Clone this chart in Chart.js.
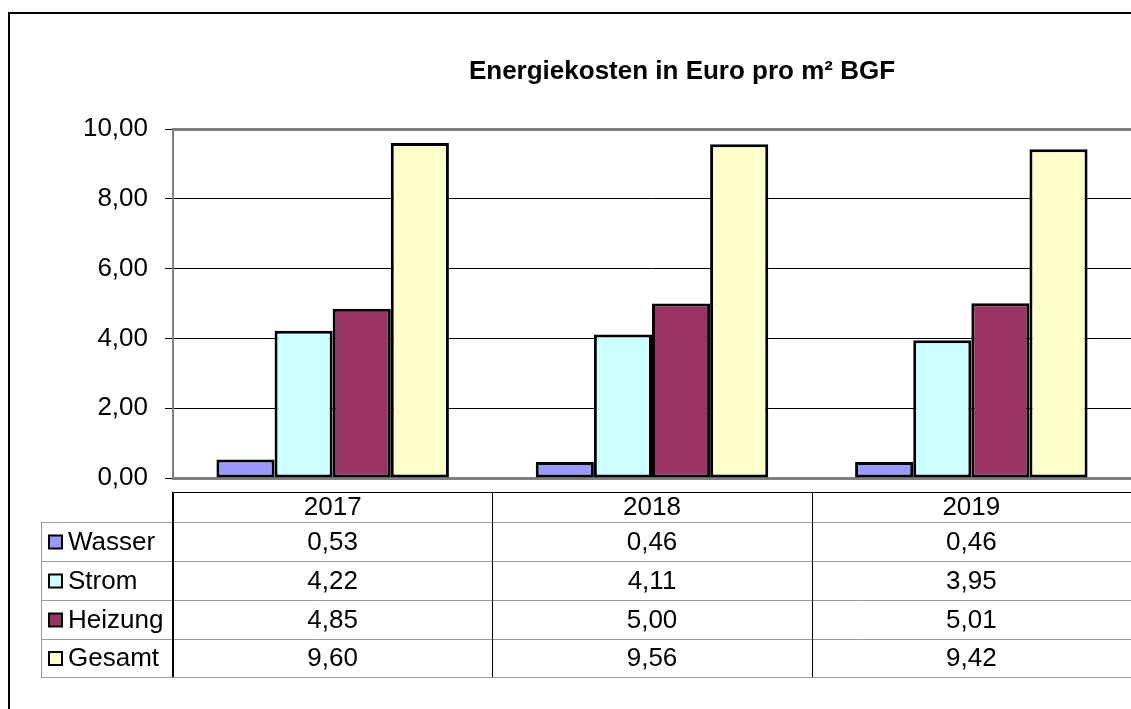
<!DOCTYPE html>
<html lang="de">
<head>
  <meta charset="UTF-8" />
  <title>Energiekosten in Euro pro m² BGF</title>
  <script src="https://cdn.jsdelivr.net/npm/chart.js"></script>
  <style>
    body {
      margin: 0;
      background: #ffffff;
    }
    canvas {
      display: block;
    }
  </style>
</head>
<body>

<canvas id="costChart" width="1131" height="709"></canvas>

<script>
  // Data
  const years = ['2017', '2018', '2019'];
  const seriesNames = ['Wasser', 'Strom', 'Heizung', 'Gesamt'];
  const wasser = [0.53, 0.46, 0.46];
  const strom = [4.22, 4.11, 3.95];
  const heizung = [4.85, 5.00, 5.01];
  const gesamt = [9.60, 9.56, 9.42];
  const yMin = 0;
  const yMax = 10;
  const yStep = 2;

  const seriesValues = [wasser, strom, heizung, gesamt];
  const seriesColors = ['#9999FF', '#CCFFFF', '#993366', '#FFFFCC'];

  const FONT = "'Liberation Sans', Arial, sans-serif";
  const fmt = v => v.toFixed(2).replace('.', ',');

  // Frame, title and the data table under the plot
  const tablePlugin = {
    id: 'dataTable',
    afterDraw(chart) {
      const { ctx, chartArea: a, scales: { x } } = chart;
      const colW = (a.right - a.left) / years.length;
      const rowLines = [522, 561, 600, 639, 677];
      const headTop = 492;
      const legLeft = 41;

      ctx.save();

      // outer frame
      ctx.strokeStyle = '#000';
      ctx.lineWidth = 2;
      ctx.strokeRect(9, 13, 1400, 900);

      // title
      ctx.fillStyle = '#000';
      ctx.font = 'bold 26px ' + FONT;
      ctx.textAlign = 'center';
      ctx.textBaseline = 'alphabetic';
      ctx.fillText('Energiekosten in Euro pro m² BGF', 682, 79);

      // table lines
      ctx.lineWidth = 1;
      ctx.strokeStyle = '#000';
      ctx.beginPath();
      ctx.moveTo(a.left, headTop + 0.5);
      ctx.lineTo(chart.width, headTop + 0.5);
      ctx.stroke();

      ctx.strokeStyle = '#999';
      rowLines.forEach(y => {
        ctx.beginPath();
        ctx.moveTo(legLeft, y + 0.5);
        ctx.lineTo(chart.width, y + 0.5);
        ctx.stroke();
      });
      ctx.beginPath();
      ctx.moveTo(legLeft + 0.5, rowLines[0]);
      ctx.lineTo(legLeft + 0.5, rowLines[rowLines.length - 1]);
      ctx.stroke();

      ctx.strokeStyle = '#000';
      for (let i = 0; i < years.length; i++) {
        const lx = Math.round(a.left + i * colW);
        ctx.lineWidth = i === 0 ? 2 : 1;
        ctx.beginPath();
        ctx.moveTo(lx + (i === 0 ? 0 : 0.5), headTop);
        ctx.lineTo(lx + (i === 0 ? 0 : 0.5), rowLines[rowLines.length - 1]);
        ctx.stroke();
      }

      // header and values
      ctx.font = '26px ' + FONT;
      ctx.textBaseline = 'middle';
      ctx.textAlign = 'center';
      years.forEach((yr, i) => {
        const cx = x.getPixelForValue(i);
        ctx.fillText(yr, cx, (headTop + rowLines[0]) / 2 + 1);
        seriesValues.forEach((vals, r) => {
          const cy = (rowLines[r] + rowLines[r + 1]) / 2 + 1;
          ctx.fillText(fmt(vals[i]), cx, cy);
        });
      });

      // legend keys
      ctx.textAlign = 'left';
      chart.data.datasets.forEach((ds, r) => {
        const cy = (rowLines[r] + rowLines[r + 1]) / 2;
        ctx.fillStyle = ds.backgroundColor;
        ctx.fillRect(49, cy - 6, 13, 13);
        ctx.lineWidth = 2;
        ctx.strokeStyle = '#000';
        ctx.strokeRect(49, cy - 6, 13, 13);
        ctx.fillStyle = '#000';
        ctx.fillText(ds.label, 68, cy + 1);
      });

      ctx.restore();
    }
  };

  const datasets = seriesNames.map((name, i) => ({
    label: name,
    data: seriesValues[i],
    backgroundColor: seriesColors[i],
    borderColor: '#000',
    borderWidth: 3,
    borderSkipped: false,
    categoryPercentage: 0.728,
    barPercentage: 1.0
  }));

  const ctx = document.getElementById('costChart').getContext('2d');

  const chart = new Chart(ctx, {
    type: 'bar',
    data: {
      labels: years,
      datasets: datasets
    },
    plugins: [tablePlugin],
    options: {
      responsive: false,
      animation: false,
      layout: {
        padding: { left: 53, top: 129, right: 0, bottom: 231 }
      },
      plugins: {
        legend: { display: false },
        title: { display: false },
        tooltip: { enabled: false }
      },
      scales: {
        x: {
          ticks: { display: false },
          grid: { display: false, drawTicks: false },
          border: { color: '#808080', width: 3 }
        },
        y: {
          min: yMin,
          max: yMax,
          afterFit: s => { s.width = 120; },
          ticks: {
            stepSize: yStep,
            padding: 17,
            color: '#000',
            font: { family: FONT, size: 26 },
            callback: v => fmt(v)
          },
          grid: {
            color: c => (c.tick && (c.tick.value === yMax || c.tick.value === yMin)) ? '#808080' : '#000',
            lineWidth: c => (c.tick && c.tick.value === yMax) ? 3 : 1,
            tickColor: '#000',
            tickWidth: 1,
            tickLength: 8
          },
          border: { color: '#808080', width: 2 }
        }
      }
    }
  });
</script>

</body>
</html>
